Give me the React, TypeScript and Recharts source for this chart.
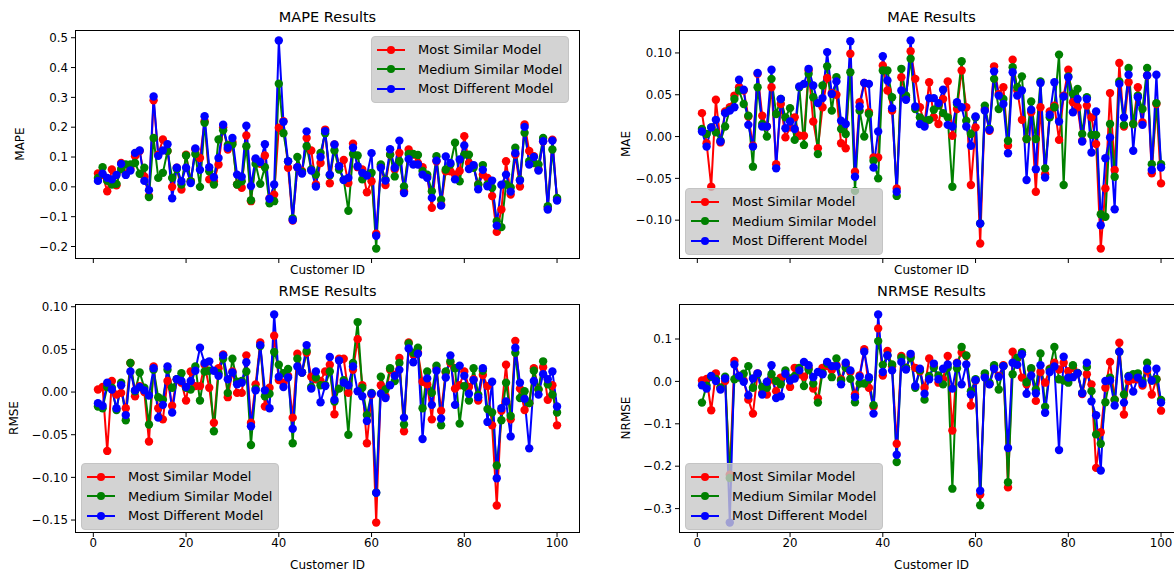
import React from "react";
import { LineChart, Line, XAxis, YAxis } from "recharts";

// customer ids 1..100
const customerIds = Array.from({ length: 100 }, (_, i) => i + 1);
const xTicks = [0, 20, 40, 60, 80, 100];

const seriesNames = ["Most Similar Model", "Medium Similar Model", "Most Different Model"];
const seriesColors = ["#ff0000", "#008000", "#0000ff"];

// ---- MAPE ----
const mapeSimilar = [
  0.045, 0.04, -0.015, 0.058, 0.005, 0.08, 0.045, 0.06, 0.103, 0.12,
  0.035, -0.031, 0.29, 0.108, 0.159, 0.12, 0.0, 0.064, -0.009, 0.108,
  0.019, 0.125, 0.097, 0.22, 0.025, 0.019, 0.075, 0.2, 0.125, 0.15,
  0.008, -0.003, 0.172, -0.048, 0.092, 0.077, 0.105, -0.039, -0.026, 0.198,
  0.22, 0.064, -0.113, 0.066, 0.053, 0.164, 0.122, 0.008, 0.08, 0.192,
  0.012, 0.142, 0.069, 0.09, 0.013, 0.145, 0.066, 0.058, -0.018, 0.019,
  -0.157, 0.069, 0.006, 0.108, 0.058, 0.114, -0.015, 0.125, 0.108, 0.08,
  0.066, 0.035, -0.07, 0.086, -0.06, 0.052, 0.052, 0.041, 0.053, 0.17,
  0.08, 0.07, 0.008, 0.041, 0.03, -0.031, -0.151, -0.076, 0.086, -0.026,
  0.108, 0.001, 0.209, 0.12, 0.103, 0.058, 0.153, -0.07, 0.158, -0.042,
];
const mapeMedium = [
  0.03, 0.066, 0.02, 0.008, 0.01, 0.06, 0.075, 0.075, 0.08, 0.044,
  0.064, -0.034, 0.164, 0.03, 0.047, 0.12, 0.03, 0.06, 0.008, 0.105,
  0.019, 0.11, 0.0, 0.215, 0.052, 0.008, 0.159, 0.19, 0.14, 0.143,
  0.008, 0.019, 0.136, -0.045, 0.077, 0.01, 0.066, -0.055, -0.048, 0.346,
  0.18, 0.086, -0.106, 0.1, 0.05, 0.136, 0.058, 0.041, 0.114, 0.18,
  0.039, 0.122, 0.058, 0.024, -0.08, 0.11, 0.105, 0.025, 0.04, 0.047,
  -0.207, 0.075, 0.024, 0.108, 0.035, 0.086, 0.001, 0.11, 0.11, 0.107,
  0.053, 0.041, -0.015, 0.103, -0.043, 0.058, 0.075, 0.148, 0.019, 0.108,
  0.108, 0.064, 0.008, 0.073, 0.008, -0.003, -0.115, -0.135, 0.008, -0.002,
  0.131, 0.024, 0.181, 0.086, 0.08, 0.075, 0.164, -0.065, 0.125, -0.037,
];
const mapeDifferent = [
  0.02, 0.044, 0.03, 0.025, 0.04, 0.077, 0.04, 0.055, 0.114, 0.122,
  0.02, -0.011, 0.303, 0.104, 0.122, 0.143, -0.038, 0.064, 0.019, 0.064,
  0.013, 0.129, 0.057, 0.237, 0.066, 0.032, 0.097, 0.208, 0.131, 0.164,
  0.041, 0.034, 0.205, 0.003, 0.095, 0.083, 0.143, -0.04, 0.008, 0.491,
  0.218, 0.086, -0.111, 0.066, 0.045, 0.186, 0.055, 0.001, 0.1, 0.187,
  0.041, 0.142, 0.069, 0.023, 0.03, 0.131, 0.069, 0.047, 0.038, 0.113,
  -0.164, 0.064, 0.021, 0.126, 0.064, 0.155, -0.021, 0.093, 0.075, 0.075,
  0.041, 0.03, -0.037, 0.088, -0.063, 0.102, 0.08, 0.025, 0.092, 0.139,
  0.06, 0.073, -0.008, 0.057, 0.002, 0.021, -0.13, 0.007, 0.041, -0.016,
  0.113, 0.021, 0.201, 0.075, 0.1, 0.055, 0.153, -0.076, 0.155, -0.046,
];
const mapeTicks = [-0.2, -0.1, 0, 0.1, 0.2, 0.3, 0.4, 0.5];

// ---- MAE ----
const maeSimilar = [
  0.028, -0.008, -0.06, 0.044, -0.007, 0.03, 0.035, 0.049, 0.059, 0.055,
  0.024, -0.011, 0.075, 0.025, 0.012, 0.059, -0.033, 0.039, -0.001, 0.011,
  0.023, 0.001, 0.001, 0.079, 0.018, -0.014, 0.035, 0.07, 0.052, 0.05,
  -0.008, -0.014, 0.099, -0.042, 0.041, 0.064, 0.029, -0.025, -0.025, 0.085,
  0.055, 0.031, -0.062, 0.071, 0.047, 0.102, 0.069, 0.035, 0.015, 0.065,
  0.023, 0.015, 0.045, 0.066, 0.001, 0.033, 0.079, 0.035, -0.058, 0.011,
  -0.128, 0.033, 0.007, 0.084, 0.051, 0.059, -0.011, 0.092, 0.055, 0.02,
  -0.003, 0.029, -0.066, 0.035, -0.045, 0.03, 0.037, -0.004, 0.049, 0.08,
  0.041, 0.035, -0.005, 0.037, 0.023, -0.009, -0.134, -0.062, 0.052, -0.04,
  0.088, 0.012, 0.065, 0.015, 0.059, 0.017, 0.073, -0.044, 0.039, -0.056,
];
const maeMedium = [
  0.009, 0.003, 0.011, 0.005, -0.005, 0.012, 0.032, 0.045, 0.055, 0.039,
  0.025, -0.036, 0.059, 0.015, 0.0, 0.069, 0.027, 0.045, 0.023, 0.034,
  -0.004, 0.059, -0.01, 0.075, 0.047, -0.021, 0.061, 0.084, 0.031, 0.071,
  0.009, 0.003, 0.077, -0.065, 0.031, 0.0, 0.027, -0.029, -0.05, 0.079,
  0.079, 0.047, -0.071, 0.081, 0.049, 0.093, 0.033, 0.023, 0.019, 0.02,
  0.032, 0.037, 0.028, 0.023, -0.06, 0.039, 0.09, 0.019, 0.003, 0.023,
  -0.104, 0.037, 0.009, 0.069, 0.033, 0.045, -0.005, 0.083, 0.059, 0.072,
  -0.003, 0.042, -0.003, 0.066, -0.038, 0.023, 0.035, 0.098, -0.058, 0.072,
  0.051, 0.057, 0.003, 0.047, 0.002, 0.002, -0.093, -0.096, 0.015, -0.048,
  0.066, 0.014, 0.082, 0.015, 0.049, 0.033, 0.082, -0.033, 0.04, -0.033,
];
const maeDifferent = [
  0.006, -0.012, 0.011, 0.02, -0.006, 0.028, 0.031, 0.035, 0.068, 0.056,
  0.014, -0.012, 0.076, 0.012, 0.012, 0.08, -0.038, 0.045, 0.01, 0.018,
  0.009, 0.06, 0.063, 0.081, 0.061, 0.04, 0.046, 0.101, 0.051, 0.066,
  0.019, 0.015, 0.114, -0.048, 0.036, 0.064, 0.063, -0.037, 0.006, 0.096,
  0.067, 0.034, -0.066, 0.055, 0.044, 0.115, 0.036, 0.015, 0.012, 0.046,
  0.046, 0.04, 0.056, 0.014, 0.012, 0.041, 0.035, 0.012, -0.011, 0.024,
  -0.104, 0.031, 0.008, 0.078, 0.049, 0.039, -0.02, 0.077, 0.049, 0.055,
  -0.052, 0.032, -0.039, 0.064, -0.049, 0.026, 0.065, 0.018, 0.048, 0.071,
  0.029, 0.045, -0.006, 0.045, -0.019, 0.03, -0.106, -0.026, -0.001, -0.087,
  0.063, 0.023, 0.074, -0.017, 0.047, 0.014, 0.073, -0.04, 0.074, -0.037,
];
const maeTicks = [-0.1, -0.05, 0, 0.05, 0.1];

// ---- RMSE ----
const rmseSimilar = [
  0.003, 0.006, -0.069, 0.013, -0.003, -0.001, -0.019, 0.034, -0.005, 0.007,
  0.0, -0.058, 0.03, -0.019, -0.032, 0.013, -0.016, 0.015, 0.011, -0.01,
  0.024, 0.007, 0.007, 0.032, 0.005, -0.036, 0.028, 0.044, -0.006, 0.024,
  -0.001, -0.001, 0.043, -0.036, 0.009, 0.058, -0.017, 0.005, 0.066, 0.014,
  0.011, 0.019, -0.03, 0.045, 0.023, 0.046, 0.018, 0.015, 0.013, 0.024,
  0.032, -0.026, 0.039, 0.039, -0.001, 0.026, 0.062, 0.008, -0.06, -0.003,
  -0.153, 0.008, -0.005, 0.026, 0.02, 0.04, -0.046, 0.058, 0.044, 0.046,
  0.012, 0.009, -0.032, 0.028, -0.022, 0.023, 0.034, 0.004, 0.008, 0.024,
  0.006, 0.015, -0.01, 0.02, 0.007, -0.039, -0.133, -0.022, 0.032, -0.032,
  0.06, 0.004, -0.021, -0.013, 0.028, 0.003, 0.029, -0.009, 0.008, -0.039,
];
const rmseMedium = [
  -0.017, -0.019, 0.006, 0.005, -0.021, 0.011, -0.033, 0.034, 0.001, 0.023,
  0.005, -0.038, 0.026, -0.006, -0.009, 0.026, 0.005, 0.015, 0.022, 0.005,
  0.003, 0.03, -0.01, 0.024, 0.025, -0.046, 0.022, 0.039, -0.001, 0.039,
  0.012, 0.013, 0.024, -0.062, 0.004, 0.054, -0.005, -0.002, 0.047, 0.032,
  0.022, 0.027, -0.06, 0.039, 0.023, 0.048, 0.006, 0.017, 0.008, 0.008,
  0.024, -0.011, 0.004, 0.014, -0.05, 0.034, 0.082, 0.005, -0.027, -0.001,
  -0.118, 0.018, 0.003, 0.028, 0.013, 0.034, -0.038, 0.057, 0.046, 0.052,
  -0.019, 0.024, -0.001, 0.031, -0.039, 0.024, 0.036, 0.028, -0.037, 0.007,
  -0.01, 0.028, -0.003, 0.025, -0.02, -0.024, -0.086, -0.033, 0.011, -0.028,
  0.046, -0.007, 0.001, -0.013, 0.025, 0.003, 0.036, 0.009, -0.003, -0.024,
];
const rmseDifferent = [
  -0.013, -0.016, 0.011, 0.003, -0.019, 0.008, -0.027, 0.024, 0.002, 0.006,
  0.002, -0.004, 0.028, -0.03, -0.015, 0.03, -0.024, 0.015, 0.013, 0.006,
  0.013, 0.025, 0.052, 0.034, 0.036, 0.025, 0.019, 0.043, 0.015, 0.023,
  0.009, 0.011, 0.035, -0.04, 0.002, 0.055, 0.002, -0.019, 0.091, 0.018,
  0.006, 0.017, -0.043, 0.03, 0.023, 0.055, 0.004, 0.024, -0.012, 0.007,
  0.041, -0.009, 0.037, 0.011, 0.008, 0.03, 0.001, -0.005, -0.034, -0.002,
  -0.118, -0.002, -0.007, 0.008, 0.019, 0.026, -0.03, 0.051, 0.035, 0.045,
  -0.055, 0.016, -0.015, 0.025, -0.031, 0.017, 0.043, -0.015, 0.031, 0.019,
  -0.002, 0.014, -0.006, 0.028, -0.035, 0.012, -0.101, -0.019, -0.011, -0.052,
  0.052, 0.011, -0.008, -0.066, 0.013, -0.003, 0.021, 0.015, 0.024, -0.017,
];
const rmseTicks = [-0.15, -0.1, -0.05, 0, 0.05, 0.1];

// ---- NRMSE ----
const nrmseSimilar = [
  0.002, 0.006, -0.068, 0.019, -0.015, 0.001, -0.22, 0.048, 0.013, 0.002,
  -0.043, -0.076, 0.019, -0.027, -0.031, 0.005, -0.023, 0.009, 0.014, -0.013,
  0.032, 0.017, 0.011, 0.032, -0.017, -0.04, 0.032, 0.036, 0.027, 0.038,
  0.005, 0.04, 0.022, -0.031, 0.014, 0.076, -0.015, -0.06, 0.125, 0.014,
  0.072, 0.036, -0.147, 0.06, 0.032, 0.06, 0.032, 0.024, -0.015, 0.054,
  0.036, -0.003, 0.005, 0.06, -0.116, 0.044, 0.068, 0.06, -0.057, 0.002,
  -0.267, 0.013, -0.006, 0.034, 0.013, 0.038, -0.25, 0.07, 0.054, 0.009,
  -0.007, 0.028, -0.046, 0.022, -0.003, 0.03, 0.044, 0.028, 0.044, 0.024,
  0.032, 0.02, -0.03, 0.017, -0.007, -0.204, -0.12, -0.015, 0.046, -0.043,
  0.091, -0.078, 0.001, 0.005, 0.005, -0.01, 0.025, -0.031, 0.005, -0.069,
];
const nrmseMedium = [
  -0.05, -0.01, 0.011, 0.006, -0.015, 0.011, -0.228, 0.005, 0.009, 0.018,
  0.036, -0.015, 0.017, -0.013, -0.015, 0.017, 0.001, -0.007, 0.026, 0.007,
  0.013, 0.032, -0.011, 0.028, -0.005, -0.05, 0.02, 0.042, 0.01, 0.054,
  0.002, 0.032, 0.006, -0.049, -0.005, -0.005, 0.005, -0.056, 0.095, 0.039,
  0.061, 0.04, -0.19, 0.056, 0.032, 0.056, -0.015, 0.026, -0.043, 0.013,
  0.032, 0.014, -0.007, 0.032, -0.253, 0.031, 0.081, 0.061, -0.023, 0.005,
  -0.292, 0.019, -0.003, 0.038, -0.019, 0.036, -0.238, 0.017, 0.056, 0.069,
  -0.002, 0.031, -0.019, 0.066, -0.06, 0.028, 0.081, 0.005, 0.002, -0.003,
  0.038, 0.02, -0.027, 0.034, -0.023, -0.125, -0.147, -0.049, 0.009, -0.043,
  0.07, -0.031, 0.013, 0.017, 0.019, 0.001, 0.044, 0.002, 0.005, -0.044,
];
const nrmseDifferent = [
  -0.009, -0.017, 0.013, 0.001, -0.019, 0.007, -0.333, 0.04, 0.013, -0.001,
  -0.033, 0.007, 0.019, -0.031, -0.001, 0.038, -0.039, -0.035, 0.018, 0.002,
  0.007, 0.026, 0.046, 0.038, 0.01, 0.022, 0.017, 0.046, 0.036, 0.036,
  -0.007, 0.044, 0.026, -0.037, 0.011, 0.07, 0.01, -0.076, 0.158, 0.022,
  0.061, 0.026, -0.173, 0.046, 0.028, 0.065, -0.011, 0.03, -0.029, 0.005,
  0.042, 0.005, 0.03, 0.04, -0.017, 0.043, -0.007, 0.04, -0.031, 0.003,
  -0.258, 0.009, -0.007, 0.03, 0.011, 0.036, -0.157, 0.044, 0.039, 0.064,
  -0.029, 0.014, -0.028, 0.038, -0.074, 0.022, 0.035, -0.162, 0.058, 0.009,
  0.01, 0.019, -0.028, 0.044, -0.047, -0.08, -0.21, 0.001, 0.002, -0.057,
  0.07, -0.05, 0.011, -0.024, 0.009, -0.005, 0.03, 0.002, 0.03, -0.05,
];
const nrmseTicks = [-0.3, -0.2, -0.1, 0, 0.1];

const FONT = "'DejaVu Sans', sans-serif";
const PLOT_W = 505;
const PLOT_H = 229;
const Y_AXIS_W = 50;
const X_AXIS_H = 26;
const TOP_PAD = 10; // room so the top tick label is not clipped

function fmt(digits: number) {
  return (v: number) => {
    const s = Math.abs(v) < 1e-9 ? (0).toFixed(digits) : v.toFixed(digits);
    return s.replace("-", "\u2212");
  };
}

// matplotlib style 5% margins around the data
function paddedDomain(arrays: number[][]): [number, number] {
  const all = arrays.flat();
  const lo = Math.min(...all);
  const hi = Math.max(...all);
  const m = (hi - lo) * 0.05;
  return [lo - m, hi + m];
}

interface PanelProps {
  left: number; // plot area left
  top: number; // plot area top
  title: string;
  yLabel: string;
  yLabelX: number;
  series: number[][];
  yTicks: number[];
  digits: number;
  showXLabels: boolean;
  legend: { left: number; top: number };
}

function LegendBox({ left, top }: { left: number; top: number }) {
  return (
    <div
      style={{
        position: "absolute",
        left,
        top,
        width: 198,
        padding: "3px 0 3px 0",
        background: "rgba(200,200,200,0.8)",
        border: "1px solid #c4c4c4",
        borderRadius: 4,
        fontFamily: FONT,
        fontSize: 13,
        color: "#000",
        boxSizing: "border-box",
        pointerEvents: "none",
      }}
    >
      {seriesNames.map((name, i) => (
        <div key={name} style={{ display: "flex", alignItems: "center", height: 19.5 }}>
          <svg width={40} height={12} style={{ flex: "none", marginLeft: 2 }}>
            <line x1={3} y1={6} x2={31} y2={6} stroke={seriesColors[i]} strokeWidth={2} />
            <circle cx={17} cy={6} r={4} fill={seriesColors[i]} />
          </svg>
          <span style={{ marginLeft: 4, whiteSpace: "nowrap" }}>{name}</span>
        </div>
      ))}
    </div>
  );
}

function Panel(p: PanelProps) {
  const [sim, med, diff] = p.series;
  const rows = customerIds.map((id, i) => ({ id, sim: sim[i], med: med[i], diff: diff[i] }));
  const domain = paddedDomain(p.series);
  const tickStyle = { fontSize: 11.8, fill: "#000", fontFamily: FONT };
  const keys = ["sim", "med", "diff"];
  return (
    <>
      <div
        style={{
          position: "absolute",
          left: p.left,
          top: p.top - 21,
          width: PLOT_W,
          textAlign: "center",
          fontFamily: FONT,
          fontSize: 14.5,
          color: "#000",
        }}
      >
        {p.title}
      </div>
      <div style={{ position: "absolute", left: p.left - Y_AXIS_W, top: p.top - TOP_PAD }}>
        <LineChart
          width={PLOT_W + Y_AXIS_W}
          height={PLOT_H + X_AXIS_H + TOP_PAD}
          data={rows}
          margin={{ top: TOP_PAD, right: 0, left: 0, bottom: 0 }}
        >
          <XAxis
            dataKey="id"
            type="number"
            domain={[-3.95, 104.95]}
            ticks={xTicks}
            allowDataOverflow
            axisLine={false}
            tickLine={{ stroke: "#000" }}
            tickSize={4}
            tickMargin={2}
            height={X_AXIS_H}
            tick={tickStyle}
            tickFormatter={(v: number) => (p.showXLabels ? String(v) : "")}
            interval={0}
          />
          <YAxis
            type="number"
            domain={domain}
            ticks={p.yTicks}
            allowDataOverflow
            axisLine={false}
            tickLine={{ stroke: "#000" }}
            tickSize={4}
            tickMargin={3}
            width={Y_AXIS_W}
            tick={tickStyle}
            tickFormatter={fmt(p.digits)}
            interval={0}
          />
          {keys.map((k, i) => (
            <Line
              key={k}
              type="linear"
              dataKey={k}
              stroke={seriesColors[i]}
              strokeWidth={2}
              dot={{ r: 4.2, fill: seriesColors[i], stroke: "none" }}
              activeDot={false}
              isAnimationActive={false}
            />
          ))}
        </LineChart>
      </div>
      <div
        style={{
          position: "absolute",
          left: p.left,
          top: p.top,
          width: PLOT_W,
          height: PLOT_H,
          border: "1px solid #000",
          boxSizing: "border-box",
          pointerEvents: "none",
        }}
      />
      <div
        style={{
          position: "absolute",
          left: p.left,
          top: p.top + PLOT_H + (p.showXLabels ? 25 : 4),
          width: PLOT_W,
          textAlign: "center",
          fontFamily: FONT,
          fontSize: 12,
          color: "#000",
        }}
      >
        Customer ID
      </div>
      <div
        style={{
          position: "absolute",
          left: p.yLabelX - 60,
          top: p.top + PLOT_H / 2 - 8,
          width: 120,
          textAlign: "center",
          fontFamily: FONT,
          fontSize: 12,
          color: "#000",
          transform: "rotate(-90deg)",
        }}
      >
        {p.yLabel}
      </div>
      <LegendBox left={p.legend.left} top={p.legend.top} />
    </>
  );
}

export default function App() {
  return (
    <div
      style={{
        position: "fixed",
        left: 0,
        top: 0,
        width: 1174,
        height: 573,
        overflow: "hidden",
        background: "#fff",
      }}
    >
      <Panel
        left={75}
        top={30}
        title="MAPE Results"
        yLabel="MAPE"
        yLabelX={20}
        series={[mapeSimilar, mapeMedium, mapeDifferent]}
        yTicks={mapeTicks}
        digits={1}
        showXLabels={false}
        legend={{ left: 371, top: 36 }}
      />
      <Panel
        left={679}
        top={30}
        title="MAE Results"
        yLabel="MAE"
        yLabelX={626}
        series={[maeSimilar, maeMedium, maeDifferent]}
        yTicks={maeTicks}
        digits={2}
        showXLabels={false}
        legend={{ left: 685, top: 188 }}
      />
      <Panel
        left={75}
        top={304}
        title="RMSE Results"
        yLabel="RMSE"
        yLabelX={14}
        series={[rmseSimilar, rmseMedium, rmseDifferent]}
        yTicks={rmseTicks}
        digits={2}
        showXLabels={true}
        legend={{ left: 81, top: 463 }}
      />
      <Panel
        left={679}
        top={304}
        title="NRMSE Results"
        yLabel="NRMSE"
        yLabelX={626}
        series={[nrmseSimilar, nrmseMedium, nrmseDifferent]}
        yTicks={nrmseTicks}
        digits={1}
        showXLabels={true}
        legend={{ left: 685, top: 463 }}
      />
    </div>
  );
}
